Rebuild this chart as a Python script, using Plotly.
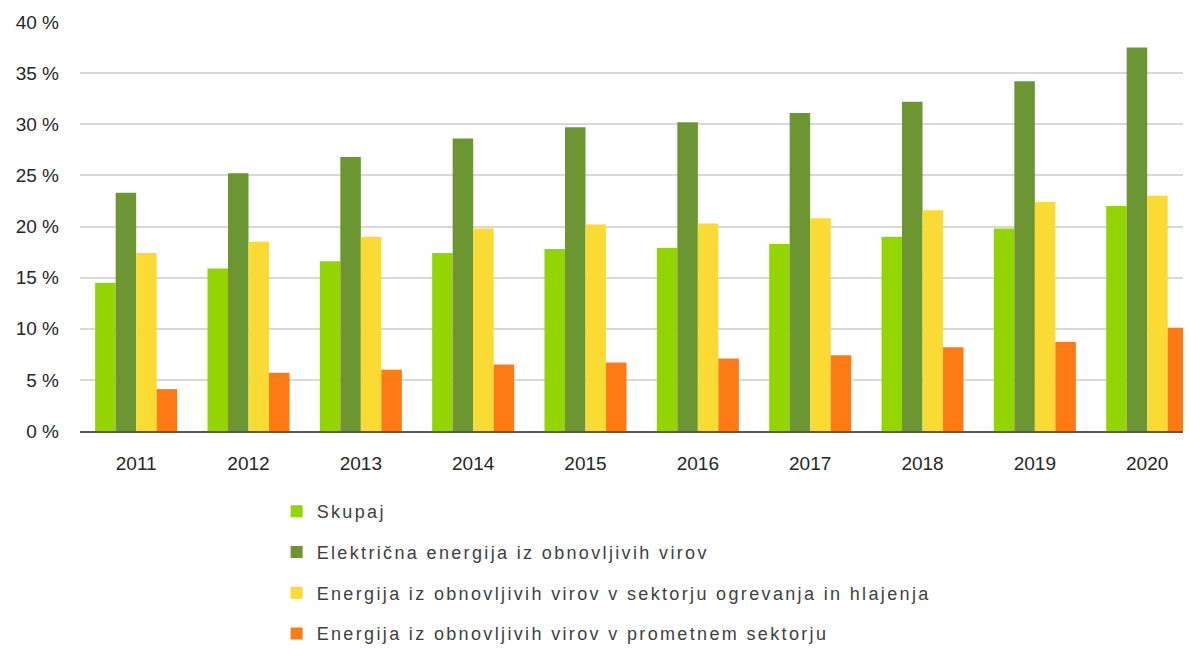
import plotly.graph_objects as go

years = ["2011", "2012", "2013", "2014", "2015", "2016", "2017", "2018", "2019", "2020"]

series_names = [
    "Skupaj",
    "Električna energija iz obnovljivih virov",
    "Energija iz obnovljivih virov v sektorju ogrevanja in hlajenja",
    "Energija iz obnovljivih virov v prometnem sektorju",
]

skupaj = [14.5, 15.9, 16.6, 17.4, 17.8, 17.9, 18.3, 19.0, 19.8, 22.0]
elektrika = [23.3, 25.2, 26.8, 28.6, 29.7, 30.2, 31.1, 32.2, 34.2, 37.5]
ogrevanje = [17.4, 18.5, 19.0, 19.8, 20.2, 20.3, 20.8, 21.6, 22.4, 23.0]
promet = [4.1, 5.7, 6.0, 6.5, 6.7, 7.1, 7.4, 8.2, 8.7, 10.1]

colors = ["#93d500", "#6b9631", "#fadb33", "#fe7a15"]

fig = go.Figure()
for i, (name, vals) in enumerate(zip(series_names, [skupaj, elektrika, ogrevanje, promet])):
    fig.add_trace(go.Bar(
        x=years, y=vals,
        name='<span style="letter-spacing:2.35px">' + name + '</span>',
        marker=dict(color=colors[i], line=dict(width=0)),
        legendgroup="g%d" % i,
    ))

fig.update_layout(
    width=1191, height=648,
    margin=dict(l=72, r=8, t=14, b=225, autoexpand=False),
    paper_bgcolor="white", plot_bgcolor="white",
    barmode="group", bargap=0.27, bargroupgap=0,
    font=dict(family="Liberation Sans, Arial, sans-serif", size=18, color="#262626"),
    showlegend=True,
    legend=dict(
        orientation="v", x=0.177, xanchor="left", y=-0.152, yanchor="top",
        font=dict(family="Liberation Sans, Arial, sans-serif", size=18, color="#404040"),
        tracegroupgap=14.3, bgcolor="rgba(0,0,0,0)",
    ),
    xaxis=dict(
        type="category", range=[-0.5, 9.39],
        showgrid=False, showline=True, linecolor="#595959", linewidth=1.5,
        ticks="", ticklabelstandoff=14,
        tickfont=dict(size=19, color="#262626"),
        automargin=False,
    ),
    yaxis=dict(
        range=[0, 40], dtick=5, ticksuffix=" %",
        showgrid=True, gridcolor="#d9d9d9", gridwidth=1.5,
        zeroline=False, showline=False, ticks="", ticklabelstandoff=20,
        tickfont=dict(size=19, color="#262626"),
        automargin=False,
    ),
)

fig.write_html("out.html")
